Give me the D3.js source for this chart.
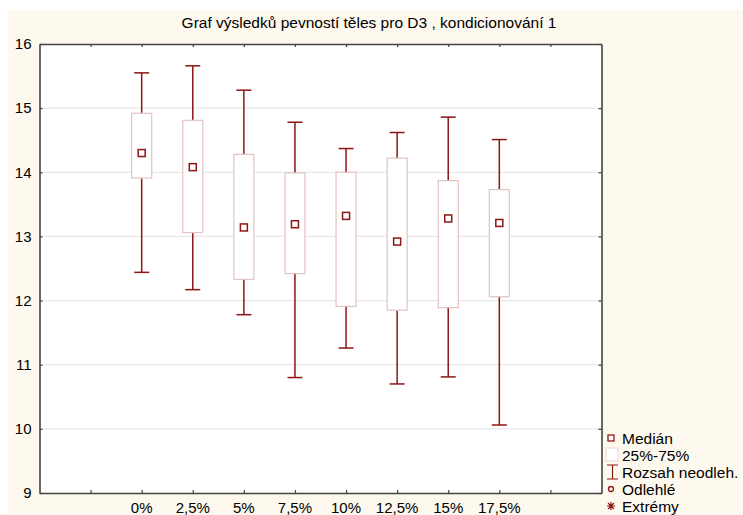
<!DOCTYPE html>
<html>
<head>
<meta charset="utf-8">
<script src="https://cdn.jsdelivr.net/npm/d3@7"></script>
<style>
  body { margin: 0; background: #fff; }
  text { font-family: "Liberation Sans", Arial, sans-serif; }
</style>
</head>
<body>
<div id="chart"></div>
<script>
// data
var categories = ["0%", "2,5%", "5%", "7,5%", "10%", "12,5%", "15%", "17,5%"];
var medians  = [14.30, 14.08, 13.14, 13.19, 13.32, 12.92, 13.28, 13.21];
var q1       = [13.91, 13.06, 12.33, 12.42, 11.91, 11.85, 11.89, 12.06];
var q3       = [14.92, 14.81, 14.28, 13.99, 14.00, 14.22, 13.87, 13.73];
var whiskLo  = [12.44, 12.17, 11.78, 10.80, 11.26, 10.70, 10.81, 10.06];
var whiskHi  = [15.55, 15.66, 15.28, 14.78, 14.37, 14.62, 14.86, 14.51];
var yTicks = [9, 10, 11, 12, 13, 14, 15, 16];
var legendLabels = ["Medián", "25%-75%", "Rozsah neodleh.", "Odlehlé", "Extrémy"];

var svgWidth = 743, svgHeight = 515;
var plot = {left: 39.5, right: 601.5, top: 44, bottom: 493};
var darkRed = "#8e1515";
var boxColor = "#e3c3c3";

var svg = d3.select("#chart").append("svg")
  .attr("width", svgWidth)
  .attr("height", svgHeight);

// cream background
svg.append("rect")
  .attr("x", 8).attr("y", 10)
  .attr("width", svgWidth - 8).attr("height", svgHeight - 10)
  .attr("fill", "#fef9ee");

svg.append("rect")
  .attr("x", plot.left).attr("y", plot.top)
  .attr("width", plot.right - plot.left).attr("height", plot.bottom - plot.top)
  .attr("fill", "#fff");

// scales: 11 slots, categories sit on slots 2..9
var x = d3.scaleLinear().domain([0, 11]).range([plot.left, plot.right]);
var y = d3.scaleLinear().domain([9, 16]).range([plot.bottom, plot.top]);
var xTicks = d3.range(1, 11);

// gridlines
svg.append("g").selectAll("line").data(yTicks.slice(1, -1)).enter().append("line")
  .attr("x1", plot.left).attr("x2", plot.right)
  .attr("y1", d => y(d)).attr("y2", d => y(d))
  .attr("stroke", "#e8e8e8").attr("stroke-width", 1.2);

// axes (inside ticks)
var leftAxis = d3.axisLeft(y).tickValues(yTicks).tickSizeInner(-3).tickSizeOuter(0).tickFormat(d3.format("d"));
var rightAxis = d3.axisRight(y).tickValues(yTicks).tickSizeInner(-3).tickSizeOuter(0).tickFormat("");
var bottomAxis = d3.axisBottom(x).tickValues(xTicks).tickSizeInner(-3).tickSizeOuter(0).tickFormat("");
var topAxis = d3.axisTop(x).tickValues(xTicks).tickSizeInner(-3).tickSizeOuter(0).tickFormat("");

var gl = svg.append("g").attr("transform", `translate(${plot.left},0)`).call(leftAxis);
gl.selectAll("text").attr("x", -8).attr("font-size", 15).attr("fill", "#000").style("font-family", "Liberation Sans, Arial, sans-serif");
svg.append("g").attr("transform", `translate(${plot.right},0)`).call(rightAxis);
svg.append("g").attr("transform", `translate(0,${plot.bottom})`).call(bottomAxis);
svg.append("g").attr("transform", `translate(0,${plot.top})`).call(topAxis);
svg.selectAll(".domain").attr("stroke", "#444").attr("stroke-width", 1.6);
svg.selectAll(".tick line").attr("stroke", "#444").attr("stroke-width", 1.2);

// category labels
svg.append("g").selectAll("text").data(categories).enter().append("text")
  .attr("x", (d, i) => x(i + 2))
  .attr("y", 513)
  .attr("text-anchor", "middle")
  .attr("font-size", 15)
  .text(d => d);

// title
svg.append("text")
  .attr("x", 369).attr("y", 28)
  .attr("text-anchor", "middle")
  .attr("font-size", 15.5)
  .text("Graf výsledků pevností těles pro D3 , kondicionování 1");

// boxes
var boxW = 20, capW = 15, medS = 7;
var g = svg.append("g");
categories.forEach(function(c, i) {
  var cx = x(i + 2);
  g.append("line").attr("x1", cx).attr("x2", cx)
    .attr("y1", y(whiskHi[i])).attr("y2", y(q3[i]))
    .attr("stroke", darkRed).attr("stroke-width", 1.5);
  g.append("line").attr("x1", cx).attr("x2", cx)
    .attr("y1", y(q1[i])).attr("y2", y(whiskLo[i]))
    .attr("stroke", darkRed).attr("stroke-width", 1.5);
  [whiskHi[i], whiskLo[i]].forEach(function(v) {
    g.append("line").attr("x1", cx - capW / 2).attr("x2", cx + capW / 2)
      .attr("y1", y(v)).attr("y2", y(v))
      .attr("stroke", darkRed).attr("stroke-width", 1.5);
  });
  g.append("rect")
    .attr("x", cx - boxW / 2).attr("y", y(q3[i]))
    .attr("width", boxW).attr("height", y(q1[i]) - y(q3[i]))
    .attr("fill", "#fff").attr("stroke", boxColor).attr("stroke-width", 1.2);
  g.append("rect")
    .attr("x", cx - medS / 2).attr("y", y(medians[i]) - medS / 2)
    .attr("width", medS).attr("height", medS)
    .attr("fill", "#fff").attr("stroke", darkRed).attr("stroke-width", 1.5);
});

// legend
var lg = svg.append("g").attr("transform", "translate(605,0)");
var ly = [438, 455, 472, 489, 506];
lg.append("rect").attr("x", 3).attr("y", ly[0] - 3).attr("width", 6).attr("height", 6)
  .attr("fill", "#fff").attr("stroke", darkRed).attr("stroke-width", 1.3);
lg.append("rect").attr("x", 1).attr("y", ly[1] - 7).attr("width", 12).attr("height", 13)
  .attr("fill", "#fff").attr("stroke", "#ead6d6").attr("stroke-width", 1);
lg.append("path").attr("d", `M2,${ly[2] - 7}H13M7.5,${ly[2] - 7}V${ly[2] + 7}M2,${ly[2] + 7}H13`)
  .attr("stroke", darkRed).attr("stroke-width", 1.2).attr("fill", "none");
lg.append("circle").attr("cx", 6).attr("cy", ly[3]).attr("r", 2.5)
  .attr("fill", "none").attr("stroke", darkRed).attr("stroke-width", 1.3);
lg.append("path")
  .attr("d", `M3,${ly[4] - 3}L9,${ly[4] + 3}M9,${ly[4] - 3}L3,${ly[4] + 3}M6,${ly[4] - 4}V${ly[4] + 4}M2,${ly[4]}H10`)
  .attr("stroke", darkRed).attr("stroke-width", 1.2).attr("fill", "none");
lg.selectAll("text.lab").data(legendLabels).enter().append("text")
  .attr("class", "lab")
  .attr("x", 17).attr("y", (d, i) => ly[i] + 5.5)
  .attr("font-size", 15.5)
  .text(d => d);
</script>
</body>
</html>
